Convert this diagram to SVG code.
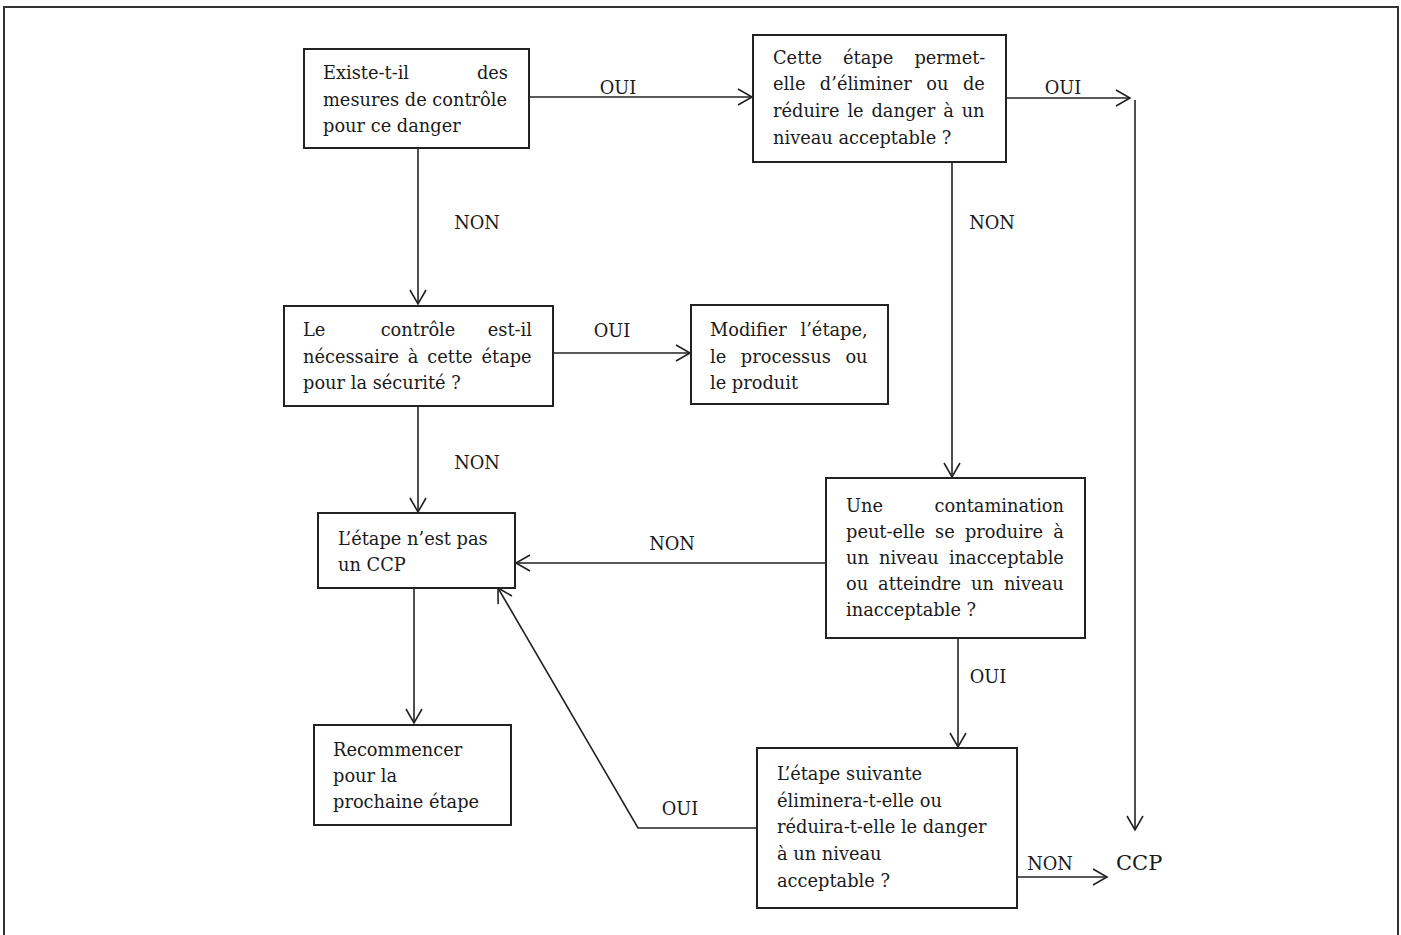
<svg xmlns="http://www.w3.org/2000/svg" width="1401" height="935" viewBox="0 0 1401 935">
<defs>
<style>
.box{fill:#fff;stroke:#222;stroke-width:2}
.t{font-family:"DejaVu Serif","Liberation Serif",serif;font-size:17.8px;fill:#1a1a1a}
.l{font-family:"DejaVu Serif","Liberation Serif",serif;font-size:17.8px;fill:#1a1a1a}
.c{fill:none;stroke:#222;stroke-width:1.6}
</style>
<marker id="ar" markerUnits="userSpaceOnUse" markerWidth="18" markerHeight="20" refX="16" refY="10" orient="auto">
<path d="M2,2 L16,10 L2,18" fill="none" stroke="#222" stroke-width="1.6"/>
</marker>
</defs>
<rect x="0" y="0" width="1401" height="935" fill="#fff"/>
<path d="M4,940 L4,7 L1398,7 L1398,940" fill="none" stroke="#333" stroke-width="2"/>

<g id="connectors">
<line class="c" x1="529" y1="97" x2="752" y2="97" marker-end="url(#ar)"/>
<line class="c" x1="1006" y1="98" x2="1130" y2="98" marker-end="url(#ar)"/>
<line class="c" x1="1135" y1="100" x2="1135" y2="830" marker-end="url(#ar)"/>
<line class="c" x1="418" y1="148" x2="418" y2="304" marker-end="url(#ar)"/>
<line class="c" x1="553" y1="353" x2="690" y2="353" marker-end="url(#ar)"/>
<line class="c" x1="418" y1="406" x2="418" y2="512" marker-end="url(#ar)"/>
<line class="c" x1="952" y1="162" x2="952" y2="477" marker-end="url(#ar)"/>
<line class="c" x1="826" y1="563" x2="516" y2="563" marker-end="url(#ar)"/>
<line class="c" x1="958" y1="638" x2="958" y2="747" marker-end="url(#ar)"/>
<polyline class="c" points="757,828 638,828 498,588" marker-end="url(#ar)"/>
<line class="c" x1="414" y1="588" x2="414" y2="723" marker-end="url(#ar)"/>
<line class="c" x1="1017" y1="877" x2="1107" y2="877" marker-end="url(#ar)"/>
<text class="l" x="618" y="94" text-anchor="middle">OUI</text>
<text class="l" x="1063" y="94" text-anchor="middle">OUI</text>
<text class="l" x="477" y="229" text-anchor="middle">NON</text>
<text class="l" x="992" y="229" text-anchor="middle">NON</text>
<text class="l" x="612" y="337" text-anchor="middle">OUI</text>
<text class="l" x="477" y="469" text-anchor="middle">NON</text>
<text class="l" x="672" y="550" text-anchor="middle">NON</text>
<text class="l" x="988" y="683" text-anchor="middle">OUI</text>
<text class="l" x="680" y="815" text-anchor="middle">OUI</text>
<text class="l" x="1050" y="870" text-anchor="middle">NON</text>
</g>

<g id="n1">
<rect class="box" x="304" y="49" width="225" height="99"/>
<text class="t" x="323" y="79">Existe-t-il</text>
<text class="t" x="508" y="79" text-anchor="end">des</text>
<text class="t" x="323" y="106">mesures de contrôle</text>
<text class="t" x="323" y="132">pour ce danger</text>
</g>

<g id="n2">
<rect class="box" x="753" y="35" width="253" height="127"/>
<text class="t" x="773" y="64" style="word-spacing:15.5px">Cette étape permet-</text>
<text class="t" x="773" y="90" style="word-spacing:8.8px">elle d’éliminer ou de</text>
<text class="t" x="773" y="117" style="word-spacing:2.2px">réduire le danger à un</text>
<text class="t" x="773" y="144">niveau acceptable ?</text>
</g>

<g id="n3">
<rect class="box" x="284" y="306" width="269" height="100"/>
<text class="t" x="303" y="336">Le</text>
<text class="t" x="418" y="336" text-anchor="middle">contrôle</text>
<text class="t" x="532" y="336" text-anchor="end">est-il</text>
<text class="t" x="303" y="363" style="word-spacing:3.2px">nécessaire à cette étape</text>
<text class="t" x="303" y="389">pour la sécurité ?</text>
</g>

<g id="n4">
<rect class="box" x="691" y="305" width="197" height="99"/>
<text class="t" x="710" y="336" style="word-spacing:8px">Modifier l’étape,</text>
<text class="t" x="710" y="363" style="word-spacing:9px">le processus ou</text>
<text class="t" x="710" y="389">le produit</text>
</g>

<g id="n5">
<rect class="box" x="318" y="513" width="197" height="75"/>
<text class="t" x="338" y="545">L’étape n’est pas</text>
<text class="t" x="338" y="571">un CCP</text>
</g>

<g id="n6">
<rect class="box" x="826" y="478" width="259" height="160"/>
<text class="t" x="846" y="512">Une</text>
<text class="t" x="1064" y="512" text-anchor="end">contamination</text>
<text class="t" x="846" y="538" style="word-spacing:4.5px">peut-elle se produire à</text>
<text class="t" x="846" y="564" style="word-spacing:4.5px">un niveau inacceptable</text>
<text class="t" x="846" y="590" style="word-spacing:4.3px">ou atteindre un niveau</text>
<text class="t" x="846" y="616">inacceptable ?</text>
</g>

<g id="n7">
<rect class="box" x="314" y="725" width="197" height="100"/>
<text class="t" x="333" y="756">Recommencer</text>
<text class="t" x="333" y="782">pour la</text>
<text class="t" x="333" y="808">prochaine étape</text>
</g>

<g id="n8">
<rect class="box" x="757" y="748" width="260" height="160"/>
<text class="t" x="777" y="780">L’étape suivante</text>
<text class="t" x="777" y="807">éliminera-t-elle ou</text>
<text class="t" x="777" y="833">réduira-t-elle le danger</text>
<text class="t" x="777" y="860">à un niveau</text>
<text class="t" x="777" y="887">acceptable ?</text>
</g>

<g id="ccp">
<text class="t" x="1116" y="870" style="font-size:21px">CCP</text>
</g>
</svg>
